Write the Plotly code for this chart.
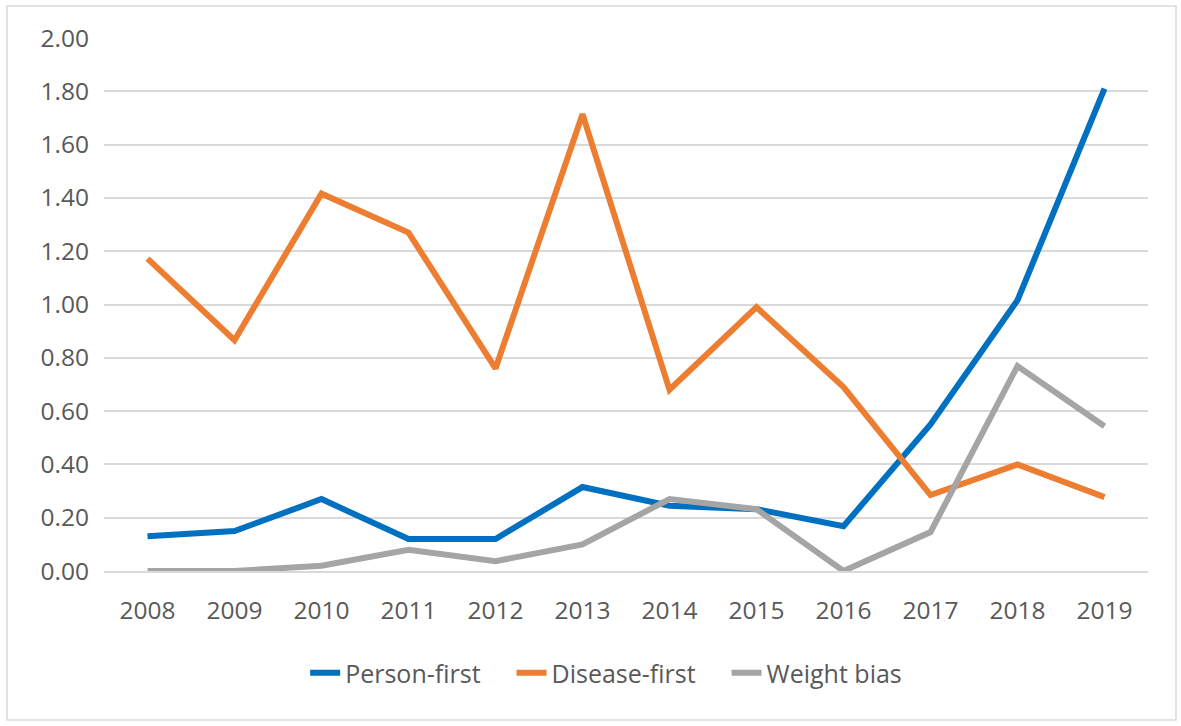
import plotly.graph_objects as go

years = ["2008", "2009", "2010", "2011", "2012", "2013", "2014", "2015", "2016", "2017", "2018", "2019"]
person_first = [0.13, 0.15, 0.27, 0.12, 0.12, 0.315, 0.245, 0.232, 0.168, 0.55, 1.016, 1.81]
disease_first = [1.172, 0.866, 1.416, 1.27, 0.76, 1.714, 0.68, 0.99, 0.69, 0.285, 0.40, 0.277]
weight_bias = [0.0, 0.0, 0.02, 0.08, 0.037, 0.10, 0.27, 0.232, 0.0, 0.146, 0.769, 0.543]
y_ticks = [0.0, 0.2, 0.4, 0.6, 0.8, 1.0, 1.2, 1.4, 1.6, 1.8, 2.0]

series = [
    ("Person-first", person_first, "#0070C0"),
    ("Disease-first", disease_first, "#ED7D31"),
    ("Weight bias", weight_bias, "#A5A5A5"),
]

pad = "\u00a0" * 4
fig = go.Figure()
for i, (name, vals, color) in enumerate(series):
    fig.add_trace(go.Scatter(
        x=years, y=vals, name=name + (pad if i < len(series) - 1 else ""), mode="lines",
        line=dict(color=color, width=6),
    ))

W, H = 1181, 726
L, R, T, B = 104, 33, 38, 155
pw, ph = W - L - R, H - T - B

def px_x(p):
    return (p - L) / pw

def px_y(p):
    return (H - B - p) / ph

fig.add_shape(type="rect", xref="paper", yref="paper",
              x0=px_x(7), x1=px_x(1176), y0=px_y(720), y1=px_y(6),
              line=dict(color="#D9D9D9", width=1.5), fillcolor="rgba(0,0,0,0)",
              layer="below")

font_color = "#595959"
fig.update_layout(
    width=W, height=H,
    margin=dict(l=L, r=R, t=T, b=B, pad=0),
    paper_bgcolor="white", plot_bgcolor="white",
    font=dict(family="Open Sans, sans-serif", size=24, color=font_color),
    showlegend=True,
    legend=dict(orientation="h", x=0.481, xanchor="center", y=px_y(673), yanchor="middle",
                font=dict(size=25, color=font_color), itemwidth=30,
                tracegroupgap=0),
    xaxis=dict(
        type="category", range=[-0.5, 11.5], showgrid=False,
        showline=True, linecolor="#D9D9D9", linewidth=1.5,
        ticks="", ticklabelstandoff=17, tickfont=dict(size=24.5, color=font_color),
        zeroline=False,
    ),
    yaxis=dict(
        range=[0, 2.0], tickvals=y_ticks, tickformat=".2f",
        showgrid=True, gridcolor="#D9D9D9", gridwidth=1.5,
        zeroline=False, showline=False, ticks="", ticklabelstandoff=14,
        tickfont=dict(size=24.5, color=font_color),
    ),
)

fig.write_html("out.html", config={"displayModeBar": False},
               post_script="document.body.style.margin='0';")
